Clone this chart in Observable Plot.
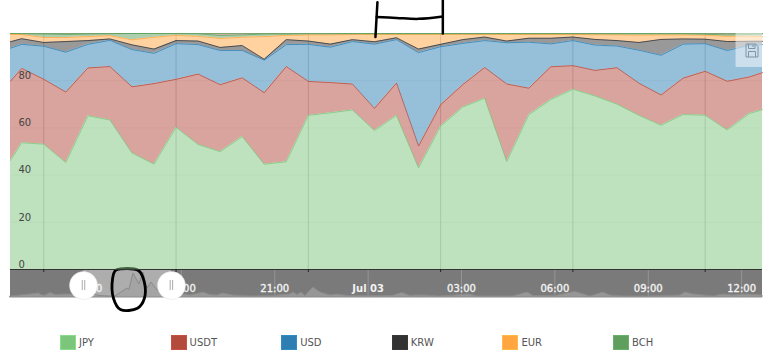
<!DOCTYPE html>
<html>
<head>
<meta charset="utf-8">
<script src="https://cdn.jsdelivr.net/npm/d3@7"></script>
<script src="https://cdn.jsdelivr.net/npm/@observablehq/plot@0.6"></script>
<style>
html,body{margin:0;padding:0;background:#fff;overflow:hidden}
#wrap{position:relative;width:779px;height:352px;font-family:"DejaVu Sans",sans-serif}
#nav{position:absolute;left:0;top:268px}
#main{position:absolute;left:0;top:0}
#legend{position:absolute;left:60px;top:335px;display:flex}
.item{width:110.6px;display:flex;align-items:center;font-size:10px;color:#555;height:15px}
.sw{width:14px;height:13px;border:1px solid;margin-right:3px;box-sizing:content-box}
</style>
</head>
<body>
<div id="wrap"><div id="nav"></div><div id="main"></div><div id="legend"></div></div>
<script>
// Sample times (UTC), 5-minute data cut at both ends by the zoomed window
const times = ["14:52:27","14:55","15:00","15:05","15:10","15:15","15:20","15:25","15:30","15:35","15:40","15:45",
  "15:50","15:55","16:00","16:05","16:10","16:15","16:20","16:25","16:30","16:35","16:40","16:45","16:50","16:55",
  "17:00","17:05","17:10","17:15","17:20","17:25","17:30","17:35","17:40","17:43"];
const JPY  = [46.2,53.7,53.1,45.3,65.1,63.3,49.4,44.6,60.2,53.0,49.9,56.4,44.6,45.6,65.3,66.4,67.5,58.8,65.3,43.1,60.7,68.8,72.5,45.8,65.6,72.0,76.3,73.4,70.0,65.3,61.0,65.6,65.3,59.0,66.0,67.8];
const USDT = [33.6,31.5,27.5,29.8,20.3,22.6,28.0,34.1,20.3,29.8,28.4,24.9,30.3,40.3,14.4,12.8,11.0,9.4,13.7,9.2,9.1,9.5,13.0,32.8,11.3,13.9,10.0,10.8,15.4,13.6,12.8,15.4,18.6,20.6,15.5,15.7];
const USD  = [14.0,10.2,14.0,16.9,10.0,11.1,15.8,12.8,15.1,12.5,14.5,11.6,13.8,9.3,15.7,15.0,18.0,27.2,18.4,39.6,24.6,17.5,11.4,17.5,19.5,9.7,10.6,10.7,9.2,14.0,16.8,14.4,11.7,13.0,13.4,11.9];
const KRW  = [2.7,2.4,1.6,4.5,1.6,0.6,2.0,1.8,1.3,1.5,1.3,2.1,0.4,2.1,1.4,1.3,0.8,1.0,0.8,1.5,1.0,1.6,1.5,0.7,1.7,2.4,1.5,2.4,2.3,3.3,6.7,2.2,1.9,3.8,1.7,1.4];
const EUR  = [3.1,1.8,2.1,1.7,1.7,1.4,2.1,5.0,2.2,2.0,3.8,3.5,9.6,1.8,2.6,3.9,2.2,3.1,1.4,6.2,4.2,2.2,1.1,2.8,1.6,1.6,1.1,2.0,2.4,3.1,1.9,1.7,1.7,2.2,2.1,2.0];
const BCH  = [0.4,0.3,1.5,1.3,1.1,0.8,2.7,1.6,0.8,1.1,1.3,1.0,1.1,0.6,0.5,0.5,0.3,0.3,0.3,0.3,0.3,0.3,0.3,0.3,0.3,0.3,0.3,0.4,0.5,0.6,0.5,0.5,0.4,0.6,0.8,1.1];
const Other= [0,0.1,0.2,0.4,0.2,0.1,0,0,0,0.1,0.8,0.6,0.2,0.2,0.1,0.1,0.1,0.1,0.1,0.1,0.1,0.1,0.1,0.1,0.1,0.1,0.1,0.1,0.1,0.1,0.1,0.1,0.3,0.6,0.4,0.2];

const seriesNames = ["JPY","USDT","USD","KRW","EUR","BCH","Other"];
const seriesValues = [JPY,USDT,USD,KRW,EUR,BCH,Other];
const seriesColors = ["#7bc67b","#b34a3c","#2d7fb3","#333333","#ffa640","#5e9f5e","#c9605a"];
const legendNames = ["JPY","USDT","USD","KRW","EUR","BCH"];

const yTicks = [0,20,40,60,80];
const gridTimes = ["15:00","15:30","16:00","16:30","17:00","17:30"];

// Navigator: hours counted from Jul 02 00:00, overall volume
const navHours = [12.51,12.83,13.15,13.41,13.54,13.63,13.8,13.96,14.28,14.5,14.76,15.14,15.4,15.66,15.88,16.27,16.33,16.46,16.65,16.78,16.91,17.04,17.23,17.42,17.68,18.13,18.29,18.71,18.93,19.16,19.32,19.67,20.22,20.96,21.5,21.6,21.73,21.86,21.99,22.24,22.47,22.79,23.01,23.34,23.98,24.56,24.78,25.1,25.36,25.52,25.84,26.26,26.58,27.22,27.54,28.64,29.12,29.31,30.02,30.66,30.82,31.14,31.56,31.78,32.2,32.97,33.61,34.03,34.19,34.45,35.09,35.41,35.73,36.18,36.67];
const navVolume = [1,2,3,4,2,2,4.5,2.5,3,3,2,3,1.5,1,1,9,7.5,24,13,25,9,15,7,4,3,3,2,5,2.5,2,4,2,1,1.5,3,5,2.5,5,1.5,10,5,2,3,1.5,1.5,1.5,1.5,4.5,1.5,2,2,1,1.5,3,1,1,5,1.5,1.5,5.5,4,1,5,2,1,1,1.5,2,5,3,1,3,2,3,2];
const navTickHours = [15,18,21,27,30,33,36];
const navTickLabels = ["15:00","18:00","21:00","03:00","06:00","09:00","12:00"];
const navDayHours = [24];
const navDayLabels = ["Jul 03"];
const handleHours = [14.855,17.68];

// Hand-drawn marks on top of the screenshot
const bracketLeftT = ["16:15:40","16:15:13"], bracketLeftV = [1.132,0.985];
const bracketBarT = ["16:15:30","16:20","16:25","16:30:30"], bracketBarV = [1.07,1.066,1.062,1.072];
const bracketRightT = ["16:30:30","16:30:30"], bracketRightV = [1.14,1.0];
const circleH = [16.04,16.62,16.81,16.81,16.59,16.04,15.82,15.79,15.88,16.04];
const circleV = [28.7,27,15.3,-1,-10.7,-12,-1,19,27,28.7];

const day = s => new Date("2018-07-02T" + (s.length === 5 ? s + ":00" : s) + "Z");
const rows = seriesNames.flatMap((s,i) => times.map((t,j) => ({t:day(t), v:seriesValues[i][j], s})));
const pairs = (a,b) => a.map((d,i) => ({t:day(d), v:b[i]}));

const saveIcon = () => {
  const g = d3.create("svg:path")
    .attr("transform","translate(745.5,43.5)")
    .attr("fill","none").attr("stroke","#8293a6").attr("stroke-width",1)
    .attr("d","M0.5 0.5H10L12.5 3V13.5H0.5Z M3 .5V5H9.5V.5 M7.5 1.5V3.5 M3 13.5V8H10V13.5");
  return g.node();
};

const main = Plot.plot({
  width:779, height:275, marginLeft:10, marginRight:17, marginTop:33, marginBottom:6,
  style:{background:"transparent", fontFamily:"'DejaVu Sans',sans-serif", overflow:"visible"},
  x:{type:"utc", domain:[day(times[0]), day(times[times.length-1])], axis:null},
  y:{domain:[0,1], axis:null},
  color:{domain:seriesNames, range:seriesColors},
  marks:[
    Plot.ruleY(yTicks.slice(1).map(d=>d/100),{stroke:"#000",strokeOpacity:0.05}),
    Plot.ruleX(gridTimes.map(day),{y1:0,y2:1,stroke:"#555",strokeOpacity:0.3}),
    Plot.areaY(rows, Plot.stackY({x:"t",y:"v",z:"s",fill:"s",fillOpacity:0.5,offset:"normalize"})),
    Plot.lineY(rows, Plot.stackY2({x:"t",y:"v",z:"s",stroke:d=>d.s==="Other"?"BCH":d.s,strokeOpacity:0.75,strokeWidth:1,offset:"normalize"})),
    Plot.ruleY([0],{stroke:"#333",strokeWidth:1}),
    Plot.ruleX(gridTimes.map(day),{y1:0,y2:-0.0127,stroke:"#222"}),
    Plot.text(yTicks,{x:()=>day(times[0]),y:d=>d/100,text:d=>String(d),dx:8,dy:-5,textAnchor:"start",fontSize:10,fill:"#444"}),
    Plot.rect([0],{x1:()=>day("17:37"),x2:()=>day(times[times.length-1]),y1:()=>0.856,y2:()=>1,fill:"#fff",fillOpacity:0.5}),
    saveIcon,
    Plot.line(pairs(bracketLeftT,bracketLeftV),{x:"t",y:"v",stroke:"#000",strokeWidth:2.5}),
    Plot.line(pairs(bracketBarT,bracketBarV),{x:"t",y:"v",stroke:"#000",strokeWidth:2.5,curve:"catmull-rom"}),
    Plot.line(pairs(bracketRightT,bracketRightV),{x:"t",y:"v",stroke:"#000",strokeWidth:2.5})
  ]
});
document.getElementById("main").append(main);

const navRows = navHours.map((h,i)=>({h,v:navVolume[i]}));
const nav = Plot.plot({
  width:779, height:44, marginLeft:10, marginRight:17, marginTop:0, marginBottom:0,
  style:{background:"transparent", fontFamily:"'DejaVu Sans',sans-serif", overflow:"visible"},
  x:{domain:[12.51,36.67], axis:null},
  y:{domain:[-15,29], axis:null},
  marks:[
    Plot.rect([0],{x1:()=>12.51,x2:()=>36.67,y1:()=>0,y2:()=>27,fill:"#7a7a7a"}),
    Plot.rect([0],{x1:()=>handleHours[0],x2:()=>handleHours[1],y1:()=>0,y2:()=>27,fill:"#adadad"}),
    Plot.ruleX(navTickHours.concat(navDayHours),{y1:0,y2:27,stroke:"#959595"}),
    Plot.areaY(navRows,{x:"h",y:"v",fill:"#a2a2a2",fillOpacity:0.75,stroke:"#8a8a8a",strokeWidth:1}),
    Plot.text(navTickHours,{x:d=>d,y:()=>9,text:(d,i)=>navTickLabels[i],fontSize:10,fill:"#f2f2f2",stroke:"#f2f2f2",strokeWidth:0.35}),
    Plot.text(navDayHours,{x:d=>d,y:()=>9,text:(d,i)=>navDayLabels[i],fontSize:10,fontWeight:"bold",fill:"#f2f2f2"}),
    Plot.dot(handleHours,{x:d=>d,y:()=>12,r:14,fill:"#fff",stroke:"#ddd",strokeWidth:0.5}),
    Plot.ruleX(handleHours.flatMap(h=>[h-0.04,h+0.04]),{y1:7,y2:17,stroke:"#aaa"}),
    Plot.line(circleH.map((h,i)=>({h,v:circleV[i]})),{x:"h",y:"v",stroke:"#000",strokeWidth:2.8,curve:"catmull-rom"})
  ]
});
document.getElementById("nav").append(nav);

const legend = document.getElementById("legend");
legendNames.forEach((n,i)=>{
  const item = document.createElement("div"); item.className="item";
  const sw = document.createElement("span"); sw.className="sw";
  sw.style.background = seriesColors[i];
  sw.style.borderColor = d3.color(seriesColors[i]).brighter(0.3).formatHex();
  const label = document.createElement("span"); label.textContent = n;
  item.append(sw,label); legend.append(item);
});
</script>
</body>
</html>
